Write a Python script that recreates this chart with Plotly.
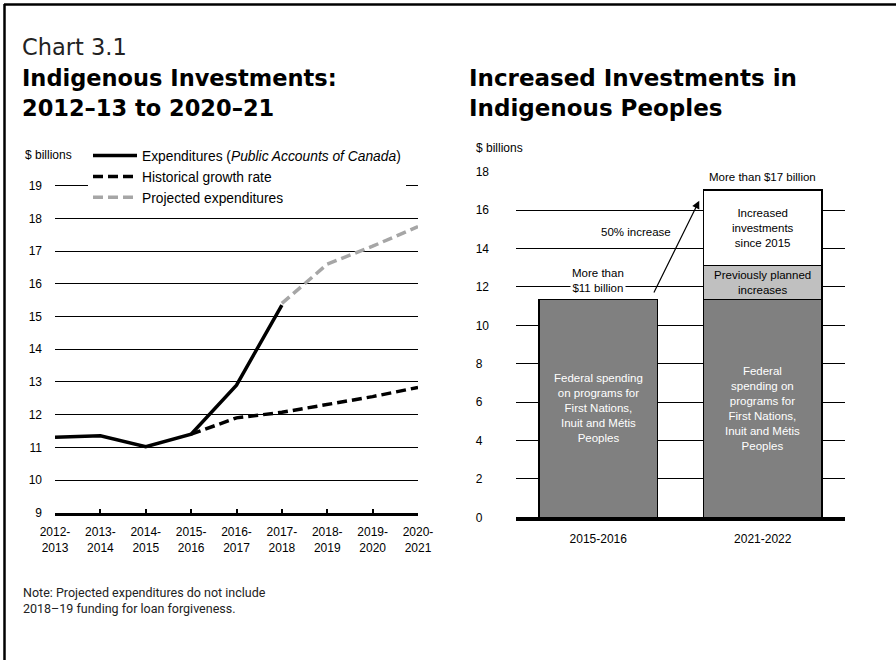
import plotly.graph_objects as go

# ---------------- data ----------------
years = ["2012-<br>2013", "2013-<br>2014", "2014-<br>2015", "2015-<br>2016", "2016-<br>2017",
         "2017-<br>2018", "2018-<br>2019", "2019-<br>2020", "2020-<br>2021"]
expenditures = [11.31, 11.35, 11.02, 11.40, 12.90, 15.35, None, None, None]
historical = [None, None, None, 11.40, 11.90, 12.07, 12.30, 12.55, 12.83]
projected = [None, None, None, None, None, 15.40, 16.60, 17.15, 17.75]
left_ticks = [9, 10, 11, 12, 13, 14, 15, 16, 17, 18, 19]

periods = ["2015-2016", "2021-2022"]
federal = [11.35, 11.35]
planned = [None, 1.75]
increased = [None, 3.95]
right_ticks = [0, 2, 4, 6, 8, 10, 12, 14, 16, 18]

W, H = 896, 660
def px(x): return x / W
def py(y): return 1 - y / H

TICKFONT = dict(family="Liberation Sans, Arial, sans-serif", size=12, color="#000")

fig = go.Figure()

# ---------------- left chart ----------------
fig.add_trace(go.Scatter(x=years, y=expenditures, mode="lines",
                         name="Expenditures (<i>Public Accounts of Canada</i>)",
                         line=dict(color="#000", width=3.5), xaxis="x", yaxis="y"))
fig.add_trace(go.Scatter(x=years, y=historical, mode="lines", name="Historical growth rate",
                         line=dict(color="#000", width=3.5, dash="10px,5px"), xaxis="x", yaxis="y"))
fig.add_trace(go.Scatter(x=years, y=projected, mode="lines", name="Projected expenditures",
                         line=dict(color="#a6a6a6", width=3.5, dash="10px,5px"), xaxis="x", yaxis="y"))

# ---------------- right chart ----------------
fig.add_trace(go.Bar(x=periods, y=federal, marker=dict(color="#808080", line=dict(color="#000", width=1.2)),
                     width=0.72, showlegend=False, xaxis="x2", yaxis="y2"))
fig.add_trace(go.Bar(x=periods, y=planned, marker=dict(color="#c0c0c0", line=dict(color="#000", width=1.2)),
                     width=0.72, showlegend=False, xaxis="x2", yaxis="y2"))
fig.add_trace(go.Bar(x=periods, y=increased, marker=dict(color="#ffffff", line=dict(color="#000", width=1.2)),
                     width=0.72, showlegend=False, xaxis="x2", yaxis="y2"))

ann = []
TITLE = dict(family="DejaVu Sans, sans-serif", size=22.5, color="#000")
def text(x, y, s, font, **kw):
    d = dict(x=x, y=y, xref="paper", yref="paper", text=s, showarrow=False,
             xanchor="left", yanchor="middle", font=font)
    d.update(kw)
    ann.append(d)

text(px(20), py(47), "Chart 3.1", dict(family="DejaVu Sans, sans-serif", size=22.5, color="#222"))
text(px(20), py(78), "<b>Indigenous Investments:</b>", TITLE)
text(px(20), py(108), "<b>2012–13 to 2020–21</b>", TITLE)
text(px(467), py(78), "<b>Increased Investments in</b>", dict(TITLE, size=23))
text(px(467), py(108), "<b>Indigenous Peoples</b>", dict(TITLE, size=23))
text(px(23), py(155), "$ billions", TICKFONT)
text(px(474), py(148), "$ billions", TICKFONT)
text(px(21), py(600), "Note: Projected expenditures do not include<br>2018–19 funding for loan forgiveness.",
     dict(family="Roboto, sans-serif", size=12.5, color="#222"), align="left")

SMALL = dict(family="Liberation Sans, Arial, sans-serif", size=11.5, color="#000")
WSMALL = dict(family="Liberation Sans, Arial, sans-serif", size=11.5, color="#fff")

total2 = federal[1] + planned[1] + increased[1]
ann.append(dict(x=1, y=total2, xref="x2", yref="y2", yanchor="bottom", yshift=2,
                text="More than $17 billion", showarrow=False, font=SMALL,
                bgcolor="#fff", borderpad=4))
ann.append(dict(x=0, y=federal[0], xref="x2", yref="y2", yanchor="bottom", yshift=3,
                text="More than<br>$11 billion", showarrow=False, font=SMALL,
                bgcolor="#fff", borderpad=1))
ann.append(dict(x=0.23, y=14.86, xref="x2", yref="y2", text="50% increase", showarrow=False, font=SMALL))
ann.append(dict(x=0.614, y=16.49, ax=0.334, ay=11.63, xref="x2", yref="y2", axref="x2", ayref="y2",
                text="", showarrow=True, arrowhead=2, arrowsize=1.3, arrowwidth=1.2, arrowcolor="#000"))
ann.append(dict(x=1, y=federal[1] + planned[1] + increased[1] / 2, xref="x2", yref="y2",
                text="Increased<br>investments<br>since 2015", showarrow=False, font=SMALL))
ann.append(dict(x=1, y=federal[1] + planned[1] / 2, xref="x2", yref="y2",
                text="Previously planned<br>increases", showarrow=False, font=SMALL))
ann.append(dict(x=0, y=federal[0] / 2, xref="x2", yref="y2",
                text="Federal spending<br>on programs for<br>First Nations,<br>Inuit and Métis<br>Peoples",
                showarrow=False, font=WSMALL))
ann.append(dict(x=1, y=federal[1] / 2, xref="x2", yref="y2",
                text="Federal<br>spending on<br>programs for<br>First Nations,<br>Inuit and Métis<br>Peoples",
                showarrow=False, font=WSMALL))

right_text = [f"{v}\u2007" if v < 10 else str(v) for v in right_ticks]

# small headroom so the top gridline is drawn
L_PX_PER = (512.7 - 185.7) / 10
R_PX_PER = (517.3 - 171.7) / 18
PAD = 0.05

fig.update_layout(
    width=W, height=H, margin=dict(l=0, r=0, t=0, b=0, autoexpand=False),
    paper_bgcolor="#fff", plot_bgcolor="#fff",
    barmode="stack", bargap=0.28,
    annotations=ann,
    shapes=[dict(type="line", xref="paper", yref="paper", x0=px(4), y0=py(4.5), x1=1, y1=py(4.5),
                 line=dict(color="#000", width=2.5), layer="above"),
            dict(type="line", xref="paper", yref="paper", x0=px(4.5), y0=py(4), x1=px(4.5), y1=0,
                 line=dict(color="#000", width=2.5), layer="above")],
    legend=dict(x=px(88), y=py(140), xanchor="left", yanchor="top", bgcolor="#fff",
                traceorder="normal",
                font=dict(family="Liberation Sans, Arial, sans-serif", size=13.8, color="#000"),
                itemwidth=44, tracegroupgap=0),
    xaxis=dict(domain=[px(55), px(418)], range=[0, 8], type="category", showgrid=False,
               showline=True, linecolor="#000", linewidth=3, ticks="inside", ticklen=4, tickwidth=2,
               tickcolor="#000", tickfont=TICKFONT, ticklabelstandoff=6, anchor="y", fixedrange=True),
    yaxis=dict(domain=[py(512.7), py(185.7 - PAD * L_PX_PER)], range=[9, 19 + PAD], tickvals=left_ticks,
               showgrid=True, gridcolor="#000", gridwidth=1, zeroline=False, tickfont=TICKFONT,
               ticklabelstandoff=12, anchor="x", fixedrange=True),
    xaxis2=dict(domain=[px(516), px(845)], range=[-0.5, 1.5], type="category", showgrid=False,
                showline=True, linecolor="#000", linewidth=3.5, ticks="", tickfont=TICKFONT,
                ticklabelstandoff=8, anchor="y2", fixedrange=True),
    yaxis2=dict(domain=[py(517.3), py(171.7 - PAD * R_PX_PER)], range=[0, 18 + PAD], tickvals=right_ticks,
                ticktext=right_text, showgrid=True, gridcolor="#000", gridwidth=1, zeroline=False,
                tickfont=TICKFONT, ticklabelstandoff=26, anchor="x2", fixedrange=True),
)

fig.write_html("out.html", config={"displayModeBar": False},
               post_script="document.body.style.margin='0';document.body.style.overflow='hidden';")
